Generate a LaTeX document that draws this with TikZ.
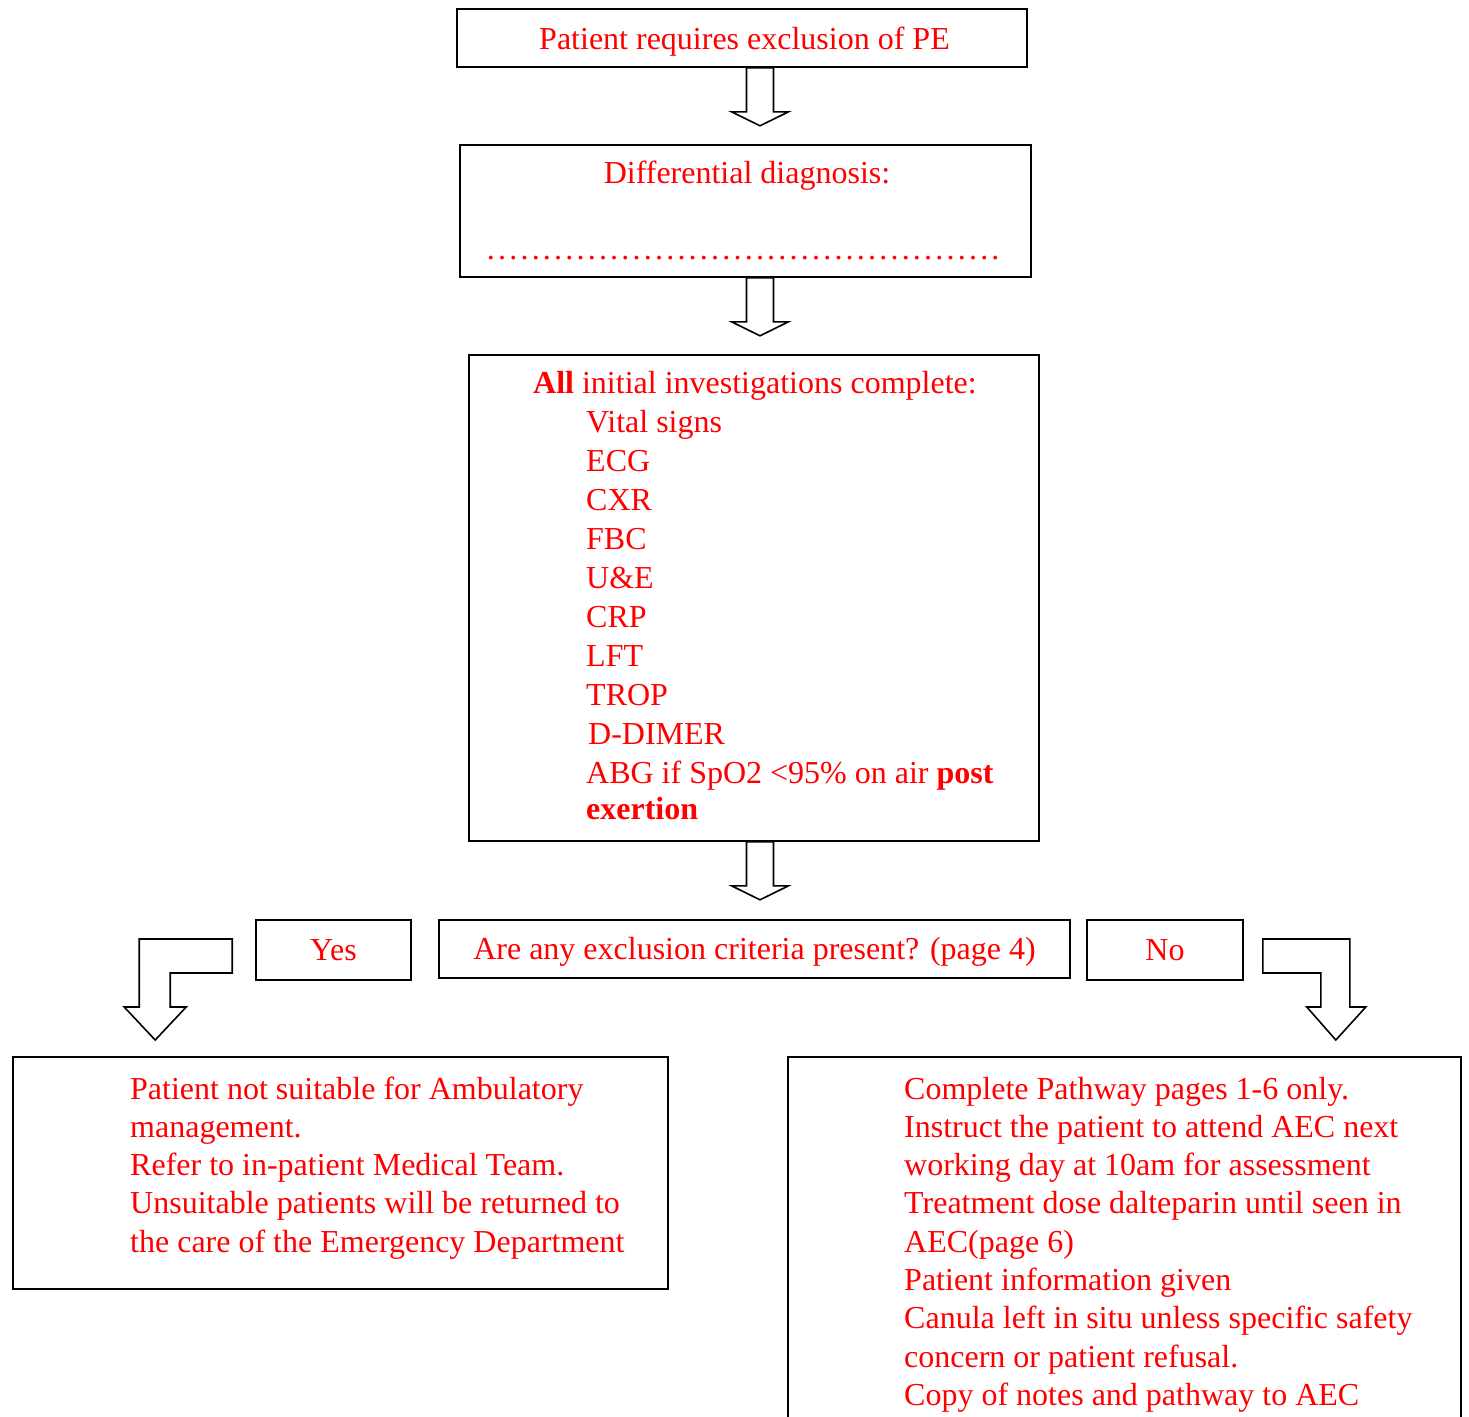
\documentclass[tikz,border=0pt]{standalone}
\usepackage{fontspec}
\setmainfont{Liberation Serif}
\usetikzlibrary{calc}
\definecolor{txtred}{RGB}{255,0,0}
\newcommand{\blkdown}[1]{\draw[blockarr] let \p1=#1 in
  (\x1-13.5pt,\y1) -- (\x1-13.5pt,\y1-44pt) -- (\x1-28.5pt,\y1-44pt) -- (\x1,\y1-58pt)
  -- (\x1+28.5pt,\y1-44pt) -- (\x1+13.5pt,\y1-44pt) -- (\x1+13.5pt,\y1) -- cycle;}
\begin{document}
\begin{tikzpicture}[x=1pt,y=1pt,
  box/.style={draw=black, line width=1.6pt, fill=white, inner sep=0pt},
  txt/.style={text=txtred, font=\fontsize{32}{38.3}\selectfont, inner sep=0pt},
  onel/.style={text height=21pt, text depth=0pt},
  blockarr/.style={draw=black, line width=1.6pt, fill=white, line join=miter},
]
\useasboundingbox (0,0) rectangle (1469,-1416);
\fill[white] (0,0) rectangle (1469,-1416);

% boxes
\node[box, minimum width=570, minimum height=58] (top) at (742,-38) {};
\node[txt, anchor=base] (topt) at (744.5,-49) {Patient requires exclusion of PE};
\node[box, minimum width=571, minimum height=132] (diff) at (745.5,-211) {};
\node[txt, anchor=base] (difft) at (747,-183) {Differential diagnosis:};
\node[txt, anchor=base west] (dots) at (485,-259) {\hbox to 516pt{\xleaders\hbox to 11pt{\hss.\hss}\hfill}};

\node[box, minimum width=570, minimum height=486] (inv) at (754,-598) {};
\node[txt, anchor=base west, text width=520, align=flush left, font=\fontsize{32}{39}\selectfont] (invt) at (533,-393)
  {\textbf{All} initial investigations complete:\\
   \hspace*{53pt}Vital signs\\
   \hspace*{53pt}ECG\\
   \hspace*{53pt}CXR\\
   \hspace*{53pt}FBC\\
   \hspace*{53pt}U\&E\\
   \hspace*{53pt}CRP\\
   \hspace*{53pt}LFT\\
   \hspace*{53pt}TROP\\
   \hspace*{55pt}D-DIMER\\
   \hspace*{53pt}ABG if SpO2 <95\%{} on air \textbf{post}\\[-3pt]
   \hspace*{53pt}\textbf{exertion}};

\node[box, txt, onel, minimum width=631, minimum height=58] (q) at (754.5,-949) {Are any exclusion criteria present? (page 4)};
\node[box, txt, onel, minimum width=155, minimum height=60] (yes) at (333.5,-950) {Yes};
\node[box, txt, onel, minimum width=156, minimum height=60] (no) at (1165,-950) {No};

\node[box, minimum width=655, minimum height=232] (lbox) at (340.5,-1173) {};
\node[txt, anchor=base west, text width=530, align=flush left] (lboxt) at (130,-1099)
  {Patient not suitable for Ambulatory\\
   management.\\
   Refer to in-patient Medical Team.\\
   Unsuitable patients will be returned to\\
   the care of the Emergency Department};

\begin{scope}
\clip (0,0) rectangle (1469,-1416);
\node[box, anchor=north west, minimum width=673, minimum height=400] (rbox) at (787,-1056) {};
\end{scope}
\node[txt, anchor=base west, text width=552, align=flush left] (rboxt) at (904,-1099)
  {Complete Pathway pages 1-6 only.\\
   Instruct the patient to attend AEC next\\
   working day at 10am for assessment\\
   Treatment dose dalteparin until seen in\\
   AEC(page 6)\\
   Patient information given\\
   Canula left in situ unless specific safety\\
   concern or patient refusal.\\
   Copy of notes and pathway to AEC};

% straight block arrows
\coordinate (ax) at (760,0);
\coordinate (a1) at (top.south -| ax);
\coordinate (a2) at (diff.south -| ax);
\coordinate (a3) at (inv.south -| ax);
\blkdown{(a1)}
\blkdown{(a2)}
\blkdown{(a3)}

% bent block arrows
\coordinate (lbend) at ($(yes.west)+(-23,11)$);
\draw[blockarr] (lbend) -- ++(-93,0) -- ++(0,-68) -- ++(-15,0) -- ++(31,-33) -- ++(31,33)
  -- ++(-16,0) -- ++(0,34) -- ++(62,0) -- cycle;
\coordinate (rbend) at ($(no.east)+(19,11)$);
\draw[blockarr] (rbend) -- ++(87,0) -- ++(0,-68) -- ++(16,0) -- ++(-30,-33) -- ++(-29,33)
  -- ++(14,0) -- ++(0,34) -- ++(-58,0) -- cycle;
\end{tikzpicture}
\end{document}
